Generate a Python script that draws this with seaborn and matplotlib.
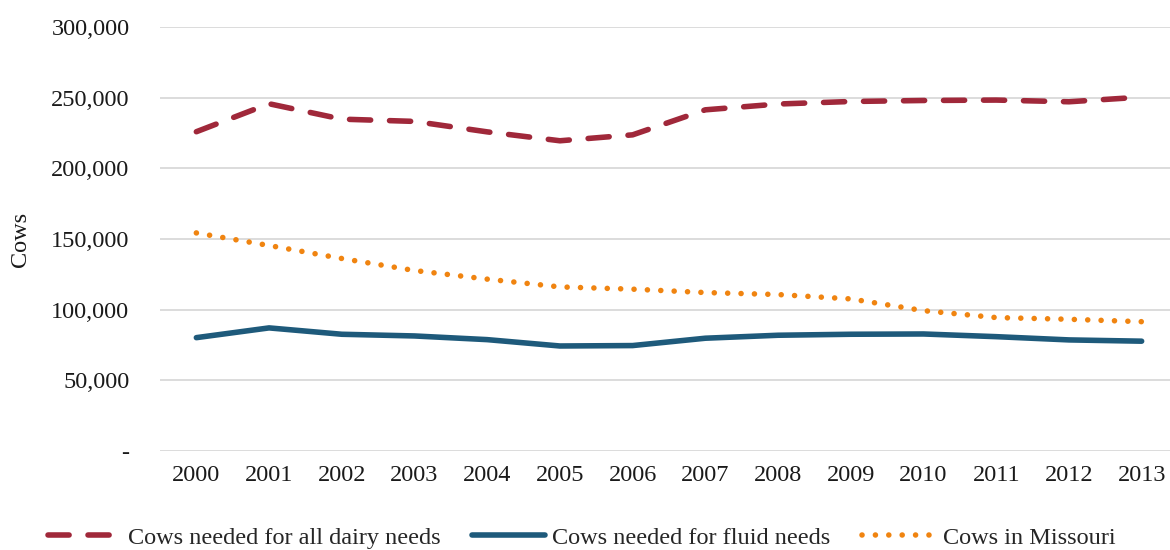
import matplotlib
matplotlib.use("Agg")
import matplotlib.pyplot as plt
import seaborn as sns
import pandas as pd
import numpy as np

years = ["2000", "2001", "2002", "2003", "2004", "2005", "2006",
         "2007", "2008", "2009", "2010", "2011", "2012", "2013"]
dairy = [225900, 245700, 234800, 233200, 225800, 219500, 223700,
         241400, 245500, 247300, 248000, 248300, 247100, 250400]
fluid = [80200, 87100, 82600, 81400, 78800, 74300, 74600,
         79800, 81900, 82600, 82800, 80900, 78600, 77700]
missouri = [154300, 145400, 136200, 127700, 121600, 116100, 114500,
            112100, 110700, 107600, 99300, 94400, 93200, 91500]
names = ["Cows needed for all dairy needs", "Cows needed for fluid needs", "Cows in Missouri"]
colors = ["#A0283A", "#1E5A7B", "#F08410"]
yticks = [0, 50000, 100000, 150000, 200000, 250000, 300000]
ytick_labels = ["-", "50,000", "100,000", "150,000", "200,000", "250,000", "300,000"]

sns.set_theme(style="white")
plt.rcParams['font.family'] = ['Liberation Serif', 'DejaVu Serif']

fig = plt.figure(figsize=(11.7, 5.5), dpi=100)
ax = fig.add_axes([160/1170, 1-451/550, 1-160/1170, (451-27)/550])

x = np.arange(len(years))
df = pd.DataFrame({"x": np.tile(x, 3),
                   "value": dairy + fluid + missouri,
                   "series": np.repeat(names, len(years))})

lw = 4.0
for name, col in zip(names, colors):
    sub = df[df["series"] == name]
    sns.lineplot(data=sub, x="x", y="value", ax=ax, color=col, linewidth=lw,
                 label=name, solid_capstyle="round", dash_capstyle="round")

lines = ax.get_lines()
lines[0].set_dashes([3.8, 3.4])
lines[0].set_dash_capstyle("round")
lines[2].set_dashes([0.01, 2.4])
lines[2].set_dash_capstyle("round")

ax.set_ylim(0, 300000)
ax.set_xlim(-0.5, 13.39)
ax.set_yticks(yticks)
ax.set_yticklabels(ytick_labels)
ax.set_xticks(x)
ax.set_xticklabels(years)
ax.yaxis.grid(True, color="#D9D9D9", linewidth=1.3)
ax.xaxis.grid(False)
for s in ax.spines.values():
    s.set_visible(False)
ax.tick_params(axis="both", length=0, labelsize=17.5, colors="#1a1a1a", pad=10)
ax.tick_params(axis="y", pad=22)
ax.set_xlabel("")
ax.set_ylabel("Cows", fontsize=17.5, color="#1a1a1a")
ax.yaxis.set_label_coords(-0.128, 0.5)

ax.get_legend().remove()
handles = ax.get_lines()[:3]
leg = fig.legend(handles, names, loc="center", bbox_to_anchor=(0.497, 0.022), ncol=3,
                 frameon=False, fontsize=17.5, handlelength=3.0, columnspacing=1.3,
                 handletextpad=0.3)

fig.savefig("out.png", dpi=100)
